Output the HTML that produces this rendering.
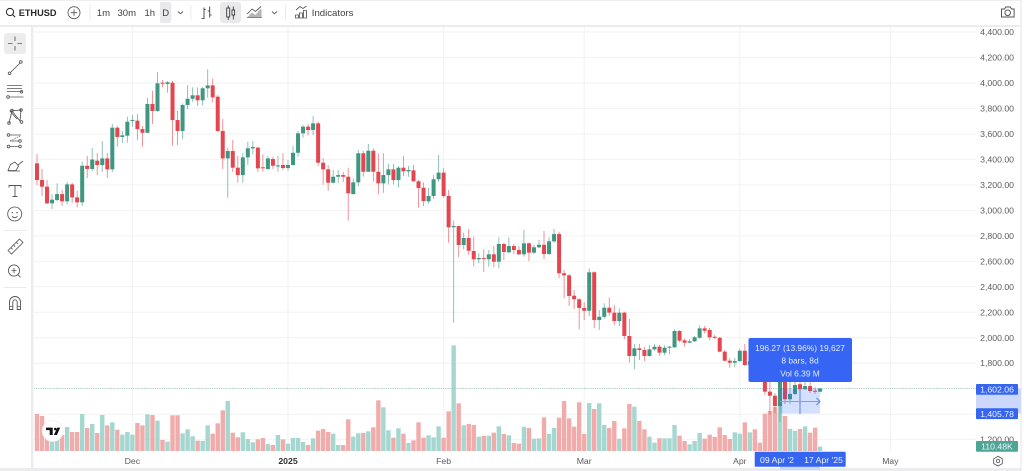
<!DOCTYPE html>
<html lang="en">
<head>
<meta charset="utf-8">
<title>ETHUSD candlestick chart</title>
<style>
html,body{margin:0;padding:0;background:#fff;width:1024px;height:471px;overflow:hidden}
svg{display:block;font-family:"Liberation Sans",sans-serif;filter:blur(0.3px)}
.ic{fill:none;stroke:#55555a;stroke-width:.85}
.tb{font-size:9.5px;fill:#3f3f42}
.px{font-size:8.7px;fill:#5c5c5f;text-anchor:end;dominant-baseline:central}
.tm{font-size:8.7px;fill:#5c5c5f;text-anchor:middle;dominant-baseline:central}
.tip{font-size:8.4px;fill:#e3eaff;text-anchor:middle;dominant-baseline:central}
.lbl{font-size:8.7px;fill:#eef2ff;text-anchor:middle;dominant-baseline:central}
</style>
</head>
<body>
<svg id="chart" xmlns="http://www.w3.org/2000/svg" width="1024" height="471" viewBox="0 0 1024 471">
  <rect width="1024" height="471" fill="#fff"/>
  <g id="grid"></g>
  <g id="volumes"></g>
  <line id="last-line" x1="34" x2="976" stroke="#8fbfb3" stroke-width="0.8" stroke-dasharray="1 1.2" stroke-opacity="0.85"/>
  <g id="candles"></g>

  <g>
    <circle cx="52.7" cy="431" r="10.5" fill="#fff" stroke="#eee" stroke-width="0.8"/>
    <path d="M46 427.6h6.7v7.4h-3v-4.9H46z" fill="#111"/>
    <circle cx="55.2" cy="429" r="1.3" fill="#111"/>
    <path d="M57.2 427.6h3l-3.3 7.4h-3z" fill="#111"/>
  </g>

  <!-- measure tool -->
  <g id="measure">
    <rect id="m-box" x="780" width="40" fill="#2962ff" fill-opacity="0.2"/>
    <line x1="800" x2="800" y1="389" y2="414" stroke="#5d80e6" stroke-width="1"/>
    <line x1="780" x2="820" y1="401.5" y2="401.5" stroke="#7f9cf0" stroke-width="1"/>
    <path d="M816.5 398l3.5 3.5-3.5 3.5" fill="none" stroke="#5d80e6" stroke-width="1"/>
  </g>
  <g>
    <rect x="748.5" y="338" width="103.5" height="44" rx="2" fill="#3665f5"/>
    <text class="tip" x="800" y="347.8">196.27 (13.96%) 19,627</text>
    <text class="tip" x="800" y="360.6">8 bars, 8d</text>
    <text class="tip" x="800" y="373.4">Vol 6.39 M</text>
  </g>

  <!-- panel separators -->
  <rect width="1024" height="1" fill="#efeff0"/>
  <rect y="25" width="1024" height="2" fill="#ececee"/>
  <rect x="31" y="26" width="2.4" height="445" fill="#ececee"/>
  <rect y="468" width="1024" height="3" fill="#ececee"/>
  <rect x="1020.5" y="0" width="1" height="471" fill="#e4e4e6"/>
  <rect x="1021.5" y="0" width="2.5" height="471" fill="#fff"/>

  <g id="price-axis"></g>
  <g id="time-axis"></g>

  <!-- axis highlights and labels -->
  <rect id="axis-band" x="976" width="45" fill="#cbd8fb"/>
  <rect x="780" y="452" width="40" height="18" fill="#cbd8fb"/>
  <g>
    <rect x="976" y="384" width="42" height="10.8" rx="1" fill="#3665f0"/>
    <text class="lbl" x="997" y="389.6">1,602.06</text>
  </g>
  <g>
    <rect x="976" y="408.3" width="42" height="10.8" rx="1" fill="#3665f0"/>
    <text class="lbl" x="997" y="413.9">1,405.78</text>
  </g>
  <g>
    <rect x="976" y="441" width="42" height="10.8" rx="1" fill="#4da594"/>
    <text class="lbl" x="997" y="446.6">110.48K</text>
  </g>
  <g>
    <rect x="754.7" y="451.7" width="91" height="15" rx="1" fill="#3665f0"/>
    <text class="lbl" x="777" y="460">09 Apr '2</text>
    <text class="lbl" x="823.5" y="460">17 Apr '25</text>
  </g>

  <!-- top toolbar -->
  <g>
    <g>
      <circle class="ic" cx="10" cy="12" r="3.6" style="stroke:#222;stroke-width:1"/>
      <path class="ic" d="M12.6 14.6l2.6 2.6" style="stroke:#222;stroke-width:1"/>
      <text x="18.7" y="16" font-size="9.2" font-weight="700" fill="#2a2a2d">ETHUSD</text>
    </g>
    <g>
      <circle class="ic" cx="74" cy="12.7" r="6"/>
      <path class="ic" d="M74 9.5v6.4M70.8 12.7h6.4"/>
    </g>
    <rect x="89.5" y="5" width="0.8" height="15" fill="#e4e4e6"/>
    <text class="tb" x="96.8" y="16.2">1m</text>
    <text class="tb" x="117.5" y="16.2">30m</text>
    <text class="tb" x="144.5" y="16.2">1h</text>
    <rect x="160" y="2" width="11.3" height="21" rx="2" fill="#e9e9eb"/>
    <text class="tb" x="162.2" y="16.2">D</text>
    <path class="ic" d="M178 11.5l2.5 2.3 2.5-2.3"/>
    <rect x="190.5" y="5" width="0.8" height="15" fill="#e4e4e6"/>
    <g>
      <path class="ic" d="M204 7.5v11.5M204 18.5h-2.5M204 9.5h1.8M209.7 6.5v11M209.7 11h-2M209.7 15h2" style="stroke:#333"/>
    </g>
    <rect x="220" y="2" width="21.2" height="21" rx="3" fill="#e9e9eb"/>
    <g>
      <rect class="ic" x="226.7" y="8" width="3" height="9" style="stroke:#333"/>
      <path class="ic" d="M228.2 5.5v2.5M228.2 17v3M233.3 6.5v13" style="stroke:#333"/>
      <rect x="232" y="10" width="2.6" height="5" fill="#fff" stroke="#333" stroke-width=".9"/>
    </g>
    <g>
      <path d="M247 17.5l5-5 3.5 2.5 5-6 1 0.5v8z" fill="#b5b5b8"/>
      <path class="ic" d="M247 14l5-5 3.5 2.5 5.5-5" style="stroke:#555"/>
      <path class="ic" d="M247 17.5h15" style="stroke:#777"/>
    </g>
    <path class="ic" d="M272 11.5l2.5 2.3 2.5-2.3"/>
    <rect x="285" y="5" width="0.8" height="15" fill="#e4e4e6"/>
    <g>
      <path class="ic" d="M296 10l4-3.5 3 2 3.5-2.5"/>
      <path class="ic" d="M295.5 18v-3h3v3zM299.5 18v-5h3v5zM303.5 18v-7.5h3v7.5z"/>
    </g>
    <text x="311.8" y="16.2" font-size="9.6" fill="#3f3f42">Indicators</text>
    <g>
      <path class="ic" d="M1001.5 9h3l1.2-2h4.6l1.2 2h2.6v8h-12.6z" style="stroke-width:1"/>
      <circle class="ic" cx="1007.7" cy="12.8" r="2.8" style="stroke-width:1"/>
    </g>
  </g>

  <!-- left drawing toolbar -->
  <g>
    <rect x="4" y="33" width="22" height="21" rx="3" fill="#ececed"/>
    <path class="ic" d="M15 36.5v4.5M15 46v4.5M8 43.5h4.5M17.5 43.5h4.5"/>
    <g>
      <path class="ic" d="M10.5 72.5l9.5-9.5"/><circle class="ic" cx="9.5" cy="73.3" r="1.3"/><circle class="ic" cx="20.8" cy="62" r="1.3"/>
    </g>
    <g>
      <path class="ic" d="M7 85.5h15M7 88.5h15M7 91.5h15M9.5 97h14"/>
      <circle class="ic" cx="8" cy="97" r="1.3"/><circle class="ic" cx="21.5" cy="91.8" r="1.3"/>
    </g>
    <g>
      <path class="ic" d="M9 123l3-12 8 10 1-11-11 1 7 8"/>
      <circle class="ic" cx="9" cy="123" r="1.3"/><circle class="ic" cx="12" cy="110.5" r="1.3"/><circle class="ic" cx="21" cy="110" r="1.3"/><circle class="ic" cx="21.5" cy="122" r="1.3"/>
    </g>
    <g>
      <path class="ic" d="M10 135h11M10 141h9M10 146.5h9"/>
      <path class="ic" d="M10 141l10-5" stroke-dasharray="1 1"/>
      <circle class="ic" cx="8.5" cy="135" r="1.3"/><circle class="ic" cx="20" cy="141" r="1.3"/><circle class="ic" cx="8.5" cy="146.5" r="1.3"/><circle class="ic" cx="20" cy="146.5" r="1.3"/>
    </g>
    <g>
      <path class="ic" d="M8 170.5l2.5-6 4.5-2.5 3.5 4-2.5 4.5zM8 171h12M18 165l5-4"/>
    </g>
    <g>
      <path class="ic" d="M9 187.5v-2h12v2M15 185.5v11M12.5 196.5h5" style="stroke-width:.9"/>
    </g>
    <g>
      <circle class="ic" cx="14.7" cy="214" r="7"/>
      <circle cx="12.3" cy="212.6" r=".7" fill="#555"/><circle cx="17" cy="212.6" r=".7" fill="#555"/>
      <path class="ic" d="M12 216.3c1.5 1.8 4 1.8 5.5 0"/>
    </g>
    <rect x="3.5" y="230" width="23" height="0.8" fill="#e6e6e8"/>
    <g>
      <path class="ic" d="M8 250.5l11.5-11.5 3.5 3.5-11.5 11.5z"/>
      <path class="ic" d="M11 247.8l1.5 1.5M13.7 245.2l1.5 1.5M16.4 242.5l1.5 1.5"/>
    </g>
    <g>
      <circle class="ic" cx="14" cy="270.5" r="5.6"/>
      <path class="ic" d="M14 268v5M11.5 270.5h5M18 274.8l2.5 2.5"/>
    </g>
    <rect x="3.5" y="287" width="23" height="0.8" fill="#e6e6e8"/>
    <g>
      <path class="ic" d="M9.5 309.5v-7.5a5.5 5.5 0 0 1 11 0v7.5h-3.3v-7.5a2.2 2.2 0 0 0-4.4 0v7.5z" style="stroke-width:.9"/>
      <path class="ic" d="M9.5 306.5h3.3M17.2 306.5h3.3"/>
    </g>
  </g>

  <g>
    <path class="ic" d="M998 456.3l4.3 2.4v4.9l-4.3 2.4-4.3-2.4v-4.9z"/>
    <circle class="ic" cx="998" cy="461" r="1.7"/>
  </g>
</svg>

<script>
// ---- chart data ----
const opens = [3369,3238,3186,3055,3081,3128,3071,3204,3102,3063,3350,3325,3390,3356,3408,3322,3649,3576,3586,3705,3704,3638,3609,3835,3780,4002,3992,4002,3709,3623,3827,3876,3903,3864,3958,3981,3892,3623,3408,3466,3335,3277,3416,3487,3492,3338,3325,3403,3350,3356,3332,3356,3452,3605,3657,3631,3683,3374,3322,3217,3264,3277,3264,3128,3220,3448,3303,3468,3303,3212,3277,3322,3238,3335,3306,3314,3228,3178,3071,3113,3244,3296,3113,2867,2877,2728,2783,2681,2616,2626,2616,2655,2597,2736,2671,2720,2689,2655,2741,2668,2710,2730,2657,2757,2814,2506,2490,2330,2302,2234,2212,2514,2139,2165,2236,2197,2131,2197,2014,1857,1917,1904,1857,1909,1930,1883,1922,1925,2053,1980,1961,1972,2000,2074,2061,2008,2000,1891,1820,1804,1817,1898,1786,1816,1806,1805,1577,1545,1464,1663,1517,1559,1635,1596,1621,1584,1577];
const highs = [3442,3325,3238,3126,3212,3160,3222,3217,3154,3382,3427,3489,3450,3544,3450,3678,3662,3625,3735,3748,3756,3662,3884,3939,4084,4023,4015,4015,3782,3840,3984,3966,3966,3970,4107,4036,3905,3717,3492,3552,3427,3450,3539,3544,3500,3440,3427,3421,3427,3448,3395,3507,3623,3670,3678,3740,3696,3411,3356,3317,3317,3301,3335,3252,3474,3468,3521,3487,3448,3448,3364,3364,3348,3427,3348,3356,3238,3220,3178,3277,3434,3330,3160,2919,2880,2825,2854,2793,2663,2694,2689,2720,2788,2746,2788,2736,2720,2846,2749,2728,2767,2838,2788,2854,2832,2532,2500,2375,2310,2278,2545,2520,2218,2271,2315,2257,2231,2204,2147,1951,1951,1927,1943,1951,1943,1941,1935,2066,2061,1993,1988,2014,2098,2092,2077,2022,2006,1904,1839,1843,1917,1951,1830,1860,1820,1815,1653,1566,1690,1688,1668,1660,1660,1653,1653,1611,1606];
const lows = [3199,3113,3050,3011,3073,3034,3047,3060,3024,3034,3254,3309,3277,3301,3254,3301,3500,3529,3531,3657,3552,3500,3605,3678,3774,3966,3923,3507,3513,3558,3795,3853,3819,3824,3884,3848,3617,3325,3099,3301,3217,3217,3356,3440,3301,3303,3317,3325,3303,3317,3311,3352,3421,3570,3589,3591,3348,3201,3154,3212,3215,3222,2919,3123,3186,3264,3303,3225,3126,3138,3204,3204,3181,3270,3264,3225,3021,3034,3052,3089,3225,3099,2746,2118,2631,2694,2650,2558,2584,2516,2558,2553,2545,2610,2663,2657,2650,2636,2602,2657,2704,2616,2652,2746,2467,2310,2249,2226,2066,2139,2171,2077,2061,2150,2173,2100,2092,1988,1804,1752,1825,1818,1851,1898,1859,1865,1870,1922,1964,1930,1957,1967,1993,2035,1982,1990,1886,1812,1765,1768,1812,1778,1770,1760,1770,1551,1394,1409,1341,1480,1480,1551,1582,1590,1566,1559,1574];
const closes = [3238,3186,3055,3084,3128,3071,3204,3102,3063,3350,3325,3399,3356,3408,3322,3649,3576,3589,3696,3709,3638,3609,3835,3780,3997,3996,4005,3709,3623,3827,3876,3903,3864,3958,3981,3887,3623,3408,3466,3335,3277,3416,3487,3497,3330,3330,3408,3350,3353,3332,3356,3452,3605,3657,3631,3683,3374,3322,3217,3264,3277,3264,3134,3220,3448,3303,3468,3303,3212,3277,3322,3238,3335,3306,3317,3228,3175,3073,3113,3244,3296,3113,2867,2877,2728,2783,2683,2616,2626,2620,2655,2597,2736,2673,2720,2689,2655,2741,2668,2710,2730,2657,2757,2814,2506,2490,2328,2302,2234,2212,2514,2139,2165,2236,2197,2131,2197,2014,1857,1917,1904,1857,1909,1930,1883,1922,1930,2053,1977,1961,1972,2004,2074,2055,2004,2000,1891,1820,1804,1817,1898,1786,1816,1806,1805,1577,1545,1464,1663,1517,1559,1629,1596,1621,1582,1577,1602];
// volume in thousands
const volumes = [925,875,608,400,350,400,600,475,475,925,575,675,450,900,640,717,533,408,475,408,700,640,917,900,758,275,233,892,892,442,542,367,258,250,642,433,692,1017,1250,458,342,467,300,217,292,325,175,150,400,292,183,325,325,225,150,317,508,550,475,433,150,150,792,358,442,450,492,592,1267,1092,517,333,567,433,200,267,717,333,392,342,617,333,992,2640,1192,642,675,650,358,375,383,458,617,425,392,200,183,608,575,308,317,842,425,575,833,1250,817,608,1217,425,1200,1050,1192,650,575,750,308,567,1175,1108,750,542,358,208,317,317,317,650,383,250,167,250,450,308,408,350,592,400,300,467,433,717,467,542,208,933,1000,1100,1190,875,550,508,550,617,458,583,110];
const priceTicks = [4400,4200,4000,3800,3600,3400,3200,3000,2800,2600,2400,2200,2000,1800,1600,1400,1200];
const priceTickLabels = ['4,400.00','4,200.00','4,000.00','3,800.00','3,600.00','3,400.00','3,200.00','3,000.00','2,800.00','2,600.00','2,400.00','2,200.00','2,000.00','1,800.00','1,600.00','1,400.00','1,200.00'];
const timeTickBars = [19,50,81,109,140,170];
const timeTickLabels = ['Dec','2025','Feb','Mar','Apr','May'];
const lastPrice = 1602.06;
const measureStartPrice = 1405.78;

// ---- axis functions ----
const NS = 'http://www.w3.org/2000/svg';
function xScale(i){ return 37 + 5.02 * i; }
function yScale(p){ return 32 + (4400 - p) * 0.1274; }
function vScale(v){ return v / 25; }
const BASE = 451;
const GREEN = '#3f9781', RED = '#e4464f', GREEN_V = '#a5d6d0', RED_V = '#f0acaa';
function make(tag, parent){
  const el = document.createElementNS(NS, tag);
  parent.appendChild(el);
  return el;
}
function set(el, attrs){ for (const k in attrs) el.setAttribute(k, attrs[k]); }

const grid = document.getElementById('grid');
priceTicks.forEach(function(p){
  const l = make('line', grid);
  
  
  set(l, {x1:34, x2:976, y1:yScale(p), y2:yScale(p), stroke:'#f2f2f4', 'stroke-width':1});
});
timeTickBars.forEach(function(b){
  const l = make('line', grid);
  
  
  set(l, {x1:xScale(b), x2:xScale(b), y1:27, y2:452, stroke:'#f2f2f4', 'stroke-width':1});
});

const volG = document.getElementById('volumes');
volumes.forEach(function(v, i){
  const r = make('rect', volG);
  
  
  const up = closes[i] >= opens[i];
  const h = vScale(v);
  set(r, {x:xScale(i)-2.2, y:BASE-h, width:4.4, height:h, fill: up ? GREEN_V : RED_V});
});

const candleG = document.getElementById('candles');
opens.forEach(function(o, i){
  const c = closes[i];
  const up = c >= o;
  const col = up ? GREEN : RED;
  const x = xScale(i);
  const w = make('line', candleG);
  
  
  set(w, {x1:x, x2:x, y1:yScale(highs[i]), y2:yScale(lows[i]), stroke:col, 'stroke-width':0.9, 'stroke-opacity':0.65});
  const b = make('rect', candleG);
  
  
  const top = yScale(Math.max(o, c));
  const bot = yScale(Math.min(o, c));
  set(b, {x:x-2, y:top, width:4, height:Math.max(bot-top, 1), fill:col});
});

const ll = document.getElementById('last-line');
ll.setAttribute('y1', yScale(lastPrice));
ll.setAttribute('y2', yScale(lastPrice));

const mBox = document.getElementById('m-box');
mBox.setAttribute('y', yScale(lastPrice));
mBox.setAttribute('height', yScale(measureStartPrice) - yScale(lastPrice));
const band = document.getElementById('axis-band');
band.setAttribute('y', yScale(lastPrice));
band.setAttribute('height', yScale(measureStartPrice) - yScale(lastPrice));

const pAxis = document.getElementById('price-axis');
priceTicks.forEach(function(p, i){
  const t = make('text', pAxis);
  
  
  t.setAttribute('class', 'px');
  t.setAttribute('x', 1014);
  t.setAttribute('y', yScale(p));
  t.textContent = priceTickLabels[i];
});

const tAxis = document.getElementById('time-axis');
timeTickBars.forEach(function(b, i){
  const t = make('text', tAxis);
  
  
  t.setAttribute('class', 'tm');
  t.setAttribute('x', xScale(b));
  t.setAttribute('y', 461);
  if (timeTickLabels[i] === '2025') { t.setAttribute('font-weight', '700'); t.style.fontWeight = '700'; t.style.fill = '#333'; }
  t.textContent = timeTickLabels[i];
});
</script>
</body>
</html>
